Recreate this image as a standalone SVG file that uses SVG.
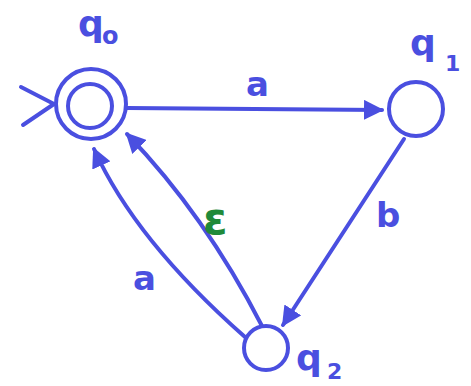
<svg xmlns="http://www.w3.org/2000/svg" width="471" height="386" viewBox="0 0 471 386">
<defs>
<style>
.st{fill:none;stroke:#4a4fe0;stroke-width:4;stroke-linecap:round;stroke-linejoin:round}
.lb{font-family:"DejaVu Sans",sans-serif;fill:#4a4fe0;font-weight:bold}
.eps{font-family:"DejaVu Sans",sans-serif;fill:#1f8a3a;font-weight:bold}
</style>
<marker id="ah" viewBox="0 0 10 10" refX="9" refY="5" markerWidth="5" markerHeight="5" orient="auto" markerUnits="strokeWidth">
<path d="M0,0 L10,5 L0,10 Z" fill="#4a4fe0"/>
</marker>
</defs>
<rect width="471" height="386" fill="#ffffff"/>
<g id="connectors">
<path class="st" d="M21,87 L54,104 L23,125"/>
<path class="st" d="M127,108 L382,110" marker-end="url(#ah)"/>
<path class="st" d="M404,139 L283,325" marker-end="url(#ah)"/>
<path class="st" d="M245,337 Q135,240 94,149" marker-end="url(#ah)"/>
<path class="st" d="M262,326 Q205,215 127,134" marker-end="url(#ah)"/>
</g>
<g id="q0">
<circle class="st" cx="91" cy="104" r="35"/>
<circle class="st" cx="90" cy="106" r="22"/>
<text class="lb" x="78" y="36" font-size="36">q</text>
<text class="lb" x="102" y="44" font-size="24">o</text>
</g>
<g id="q1">
<circle class="st" cx="416" cy="109" r="27"/>
<text class="lb" x="410" y="55" font-size="36">q</text>
<text class="lb" x="445" y="71" font-size="22">1</text>
</g>
<g id="q2">
<circle class="st" cx="266" cy="348" r="22"/>
<text class="lb" x="296" y="370" font-size="36">q</text>
<text class="lb" x="327" y="379" font-size="22">2</text>
</g>
<g id="labels">
<text class="lb" x="246" y="96" font-size="34">a</text>
<text class="lb" x="376" y="227" font-size="34">b</text>
<text class="lb" x="133" y="290" font-size="34">a</text>
<text class="eps" x="203" y="234" font-size="44">ε</text>
</g>
</svg>
